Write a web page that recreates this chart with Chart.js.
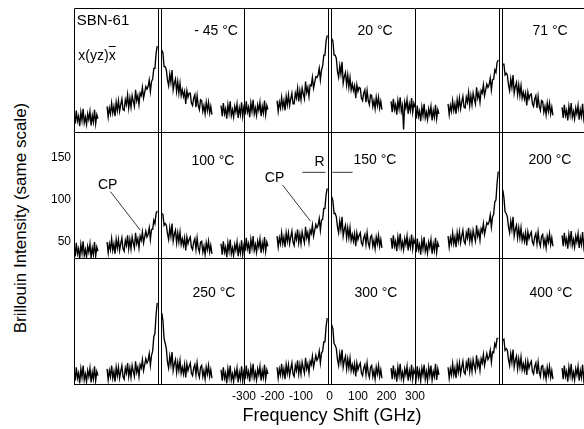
<!DOCTYPE html>
<html><head><meta charset="utf-8">
<script src="https://cdn.jsdelivr.net/npm/chart.js@4.4.0/dist/chart.umd.min.js"></script>
<style>
html,body{margin:0;padding:0;background:#fff;overflow:hidden;width:584px;height:429px;}
#wrap{position:relative;width:584px;height:429px;overflow:hidden;background:#fff;}
canvas{position:absolute;}
.t{position:absolute;font-family:"Liberation Sans",Arial,sans-serif;color:#000;white-space:nowrap;line-height:1;}
</style></head><body><div id="wrap"></div>
<script>
// Frequency shift grid (GHz); null values mark the instrument gaps
const freq = [
 -300,-296,-292,-288,-284,-280,-276,-272,-268,-264,-260,-256,-252,-248,-244,-240,-236,-232,-228,-224,-220,-216,
 -212,-208,-204,-200,-196,-192,-188,
 -184,-180,-176,-172,-168,-164,-160,-156,-152,-148,-144,-140,-136,-132,-128,-124,-120,-116,-112,-108,-104,-100,-96,-92,-88,-84,-80,-76,-72,-68,-64,-60,-56,-52,-48,-44,-40,-36,-32,-28,-24,-20,-16,-12,-8,
 0,
 8,12,16,20,24,28,32,36,40,44,48,52,56,60,64,68,72,76,80,84,88,92,96,100,104,108,112,116,120,124,128,132,136,140,144,148,152,156,160,164,168,172,176,180,184,
 188,192,196,200,204,208,212,
 216,220,224,228,232,236,240,244,248,252,256,260,264,268,272,276,280,284,288,292,296,300];

const temperatureLabels = ['- 45 °C','20 °C','71 °C','100 °C','150 °C','200 °C','250 °C','300 °C','400 °C'];

const int_m45C = [54,41,57,44,50,38,55,45,59,42,49,40,53,46,56,39,51,43,58,41,52,47,
 null,null,null,null,null,null,null,
 62,49,60,53,66, 54,62,50,67,57, 69,56,64,71,58, 57,70,64,76,60, 72,61,75,68,62, 82,69,75,64,78, 75,85,72,79,86, 83,86,94,80,92, 95,108,108,126,135,
 null,
 130,127,110,110,106, 94,87,101,91,106, 82,90,95,80,92, 78,90,75,82,74, 80,65,81,73,78, 78,66,63,72,76, 61,75,63,58,70, 69,56,63,53,67, 57,67,54,62,52,
 null,null,null,null,null,null,null,
 63,50,66,53,59,47,64,54,68,51,58,49,62,55,65,48,60,52,67,50,61,56];
const int_20C = [65,52,68,55,61,49,66,56,70,53,60,51,64,57,67,50,62,54,69,52,63,58,
 null,null,null,null,null,null,null,
 69,56,67,60,73, 61,69,57,74,64, 76,63,71,78,65, 65,78,72,84,68, 81,70,84,77,71, 92,79,85,74,88, 87,97,84,91,98, 97,100,108,94,106, 111,124,124,141,148,
 null,
 144,141,124,124,120, 104,97,111,101,116, 90,98,103,88,100, 85,97,82,89,81, 87,72,88,80,85, 84,72,69,78,82, 67,81,69,64,76, 75,62,69,59,73, 63,73,60,68,58,
 null,null,null,null,null,null,null,
 68,55,71,58,64,52,69,59,73,56,63,34,67,60,70,53,65,57,72,55,66,61];
const int_71C = [60,47,63,50,56,44,61,51,65,48,55,46,59,52,62,45,57,49,64,47,58,53,
 null,null,null,null,null,null,null,
 65,52,63,56,69, 57,65,53,70,60, 72,59,67,74,61, 60,73,67,79,63, 75,64,78,71,65, 85,72,78,67,81, 78,88,75,82,89, 85,88,96,82,94, 95,106,103,115,118,
 null,
 113,113,100,102,100, 88,81,95,85,100, 78,86,91,76,88, 75,87,72,79,71, 78,63,79,71,76, 77,65,62,71,75, 60,74,62,57,69, 68,55,62,52,66, 56,66,53,61,51,
 null,null,null,null,null,null,null,
 61,48,64,51,57,45,62,52,66,49,56,47,60,53,63,46,58,50,65,48,59,54];
const int_100C = [46,33,49,36,42,30,47,37,51,34,41,32,45,38,48,31,43,35,50,33,44,39,
 null,null,null,null,null,null,null,
 50,37,48,41,54, 40,48,36,53,43, 53,40,48,55,42, 39,52,46,58,42, 53,42,56,49,43, 61,48,54,43,57, 52,62,49,56,63, 56,59,67,53,65, 65,76,72,84,87,
 null,
 84,83,70,72,70, 60,53,67,57,72, 51,59,64,49,61, 50,62,47,54,46, 55,40,56,48,53, 56,44,41,50,54, 41,55,43,38,50, 51,38,45,35,49, 41,51,38,46,36,
 null,null,null,null,null,null,null,
 48,35,51,38,44,32,49,39,53,36,43,34,47,40,50,33,45,37,52,35,46,41];
const int_150C = [52,39,55,42,48,36,53,43,57,40,47,38,51,44,54,37,49,41,56,39,50,45,
 null,null,null,null,null,null,null,
 57,44,55,48,61, 48,56,44,61,51, 61,48,56,63,50, 46,59,53,65,49, 59,48,62,55,49, 68,55,61,50,64, 60,70,57,64,71, 67,70,78,64,76, 77,90,90,106,114,
 null,
 104,99,84,84,80, 68,61,75,65,80, 57,65,70,55,67, 55,67,52,59,51, 60,45,61,53,58, 61,49,46,55,59, 47,61,49,44,56, 58,45,52,42,56, 48,58,45,53,43,
 null,null,null,null,null,null,null,
 55,42,58,45,51,39,56,46,60,43,50,41,54,47,57,40,52,44,59,42,53,48];
const int_200C = [51,38,54,41,47,35,52,42,56,39,46,37,50,43,53,36,48,40,55,38,49,44,
 null,null,null,null,null,null,null,
 57,44,55,48,61, 48,56,44,61,51, 62,49,57,64,51, 48,61,55,67,51, 61,50,64,57,51, 70,57,63,52,66, 62,72,59,66,73, 71,74,82,68,80, 83,98,100,120,134,
 null,
 112,103,86,84,80, 68,61,75,65,80, 57,65,70,55,67, 55,67,52,59,51, 61,46,62,54,59, 62,50,47,56,60, 48,62,50,45,57, 59,46,53,43,57, 50,60,47,55,45,
 null,null,null,null,null,null,null,
 58,45,61,48,54,42,59,49,63,46,53,44,57,50,60,43,55,47,62,45,56,51];
const int_250C = [49,36,52,39,45,33,50,40,54,37,44,35,48,41,51,34,46,38,53,36,47,42,
 null,null,null,null,null,null,null,
 50,37,48,41,54, 39,47,35,52,42, 52,39,47,54,41, 38,51,45,57,41, 51,40,54,47,41, 59,46,52,41,55, 51,61,48,55,62, 57,60,68,54,66, 71,88,92,114,128,
 null,
 116,107,86,80,74, 58,51,65,55,70, 48,56,61,46,58, 48,60,45,52,44, 55,40,56,48,53, 57,45,42,51,55, 43,57,45,40,52, 54,41,48,38,52, 44,54,41,49,39,
 null,null,null,null,null,null,null,
 49,36,52,39,45,33,50,40,54,37,44,35,48,41,51,34,46,38,53,36,47,42];
const int_300C = [51,38,54,41,47,35,52,42,56,39,46,37,50,43,53,36,48,40,55,38,49,44,
 null,null,null,null,null,null,null,
 52,39,50,43,56, 42,50,38,55,45, 55,42,50,57,44, 41,54,48,60,44, 55,44,58,51,45, 63,50,56,45,59, 55,65,52,59,66, 60,63,71,57,69, 71,82,82,100,110,
 null,
 102,97,80,78,74, 61,54,68,58,73, 52,60,65,50,62, 51,63,48,55,47, 56,41,57,49,54, 57,45,42,51,55, 43,57,45,40,52, 54,41,48,38,52, 44,54,41,49,39,
 null,null,null,null,null,null,null,
 51,38,54,41,47,35,52,42,56,39,46,37,50,43,53,36,48,40,55,38,49,44];
const int_400C = [50,39,53,40,48,36,51,43,55,38,47,36,52,42,54,37,47,41,56,37,50,43,
 null,null,null,null,null,null,null,
 52,39,50,43,56, 43,51,39,56,46, 57,44,52,59,46, 44,57,51,63,47, 58,47,61,54,48, 66,53,59,48,62, 57,67,54,61,68, 61,64,72,58,70, 69,80,76,86,86,
 null,
 84,85,72,74,72, 61,54,68,58,73, 52,60,65,50,62, 52,64,49,56,48, 58,43,59,51,56, 59,47,44,53,57, 44,58,46,41,53, 54,41,48,38,52, 43,53,40,48,38,
 null,null,null,null,null,null,null,
 51,38,54,41,47,35,52,42,56,39,46,37,50,43,53,36,48,40,55,38,49,44];

const yTickValues = [50,100,150];
const xTickValues = [-300,-200,-100,0,100,200,300];
const rayleighShifts = [-7,7];

const spectra = [int_m45C,int_20C,int_71C,int_100C,int_150C,int_200C,int_250C,int_300C,int_400C];

// layout (pixels)
const colLefts=[74,244,415], panelW=171, rowTops=[8,132,258], rowHs=[124,126,127];
const Y_MIN=31, Y_MAX=181;

// annotations in data coordinates (panel index -> marks)
const annotations = {
  3:{lines:[[[-172,110],[-67,64]]], texts:[['CP',-182,118]]},
  4:{lines:[[[-165,118],[-67,75]],[[-95,133],[-14,133]],[[10,133],[81,133]]], texts:[['CP',-193,126],['R',-35,145]]}
};

const framePlugin = {
  id:'frame',
  afterDatasetsDraw(chart){
    const {ctx, chartArea:a, scales:{x,y}} = chart;
    const o = chart.options.plugins.frame || {};
    ctx.save();
    ctx.strokeStyle='#000';
    ctx.lineWidth=1;
    ctx.beginPath();
    ctx.moveTo(a.left+0.5, a.bottom); ctx.lineTo(a.left+0.5, a.top+0.5); ctx.lineTo(a.right, a.top+0.5);
    if(o.bottom){ ctx.moveTo(a.left, a.bottom-0.5); ctx.lineTo(a.right, a.bottom-0.5); }
    ctx.stroke();
    rayleighShifts.forEach(f=>{
      const px=Math.round(x.getPixelForValue(f))+0.5;
      ctx.beginPath(); ctx.moveTo(px,a.top); ctx.lineTo(px,a.bottom); ctx.stroke();
    });
    const an = o.ann;
    if(an){
      ctx.lineWidth=0.8;
      an.lines.forEach(l=>{
        ctx.beginPath();
        ctx.moveTo(x.getPixelForValue(l[0][0]), y.getPixelForValue(l[0][1]));
        ctx.lineTo(x.getPixelForValue(l[1][0]), y.getPixelForValue(l[1][1]));
        ctx.stroke();
      });
      ctx.fillStyle='#000';
      ctx.font='14px "Liberation Sans", Arial, sans-serif';
      ctx.textAlign='center'; ctx.textBaseline='middle';
      an.texts.forEach(t=>{ ctx.fillText(t[0], x.getPixelForValue(t[1]), y.getPixelForValue(t[2])); });
    }
    ctx.restore();
  }
};

const wrap = document.getElementById('wrap');
spectra.forEach((vals, i)=>{
  const r = Math.floor(i/3), c = i%3;
  const showY = (r===1 && c===0);
  const showX = (r===2 && c===1);
  let left = colLefts[c], top = rowTops[r], w = panelW, h = rowHs[r];
  const pad = {left:0,right:0,top:0,bottom:0};
  if(showY){ left -= 44; w += 44; }
  if(showX){ left -= 20; w += 40; h += 26; pad.left = 20; pad.right = 20; }
  const cv = document.createElement('canvas');
  cv.width = w; cv.height = h;
  cv.style.left = left+'px'; cv.style.top = top+'px';
  cv.style.width = w+'px'; cv.style.height = h+'px';
  wrap.appendChild(cv);
  new Chart(cv, {
    type:'line',
    data:{datasets:[{
      data: freq.map((f,k)=>({x:f, y:vals[k]})),
      borderColor:'#000', borderWidth:1.35, pointRadius:0, tension:0, spanGaps:false, fill:false
    }]},
    options:{
      responsive:false, animation:false, devicePixelRatio:1,
      layout:{padding:pad},
      plugins:{legend:{display:false}, tooltip:{enabled:false},
        frame:{bottom: r===2, ann: annotations[i]}},
      scales:{
        x:{type:'linear', min:-300, max:300, display: showX,
           grid:{display:false, drawTicks:false}, border:{display:false},
           afterBuildTicks: s=>{ s.ticks = xTickValues.map(v=>({value:v})); },
           afterFit: s=>{ if(showX){ s.height = 26; s.paddingLeft = 0; s.paddingRight = 0; } },
           ticks:{color:'#000', font:{family:'"Liberation Sans", Arial, sans-serif', size:12}, padding:4,
                  maxRotation:0, autoSkip:false, callback: v=>String(v)}},
        y:{min:Y_MIN, max:Y_MAX, display: showY,
           grid:{display:false, drawTicks:false}, border:{display:false},
           afterBuildTicks: s=>{ s.ticks = yTickValues.map(v=>({value:v})); },
           afterFit: s=>{ if(showY){ s.width = 44; s.paddingTop = 0; s.paddingBottom = 0; } },
           ticks:{color:'#000', font:{family:'"Liberation Sans", Arial, sans-serif', size:12}, padding:3,
                  callback: v=>String(v)}}
      }
    },
    plugins:[framePlugin]
  });
});

// HTML labels
function addText(txt, cx, cy, size, extra){
  const d = document.createElement('div');
  d.className='t';
  d.innerHTML = txt;
  d.style.fontSize = size+'px';
  d.style.left = cx+'px'; d.style.top = cy+'px';
  d.style.transform = 'translate(-50%,-50%)' + (extra||'');
  wrap.appendChild(d);
}
const tempPos = [[216,30],[375,30],[550,30],[213,160],[375,159],[550,159],[214,292],[376,292],[551,292]];
temperatureLabels.forEach((t,i)=> addText(t, tempPos[i][0], tempPos[i][1], 14));
addText('SBN-61', 103, 19, 15);
addText('x(yz)<span style="text-decoration:overline">x</span>', 97, 55, 14);
addText('Frequency Shift (GHz)', 332, 415, 18);
addText('Brillouin Intensity (same scale)', 20, 218, 17, ' rotate(-90deg)');
</script>
</body></html>
